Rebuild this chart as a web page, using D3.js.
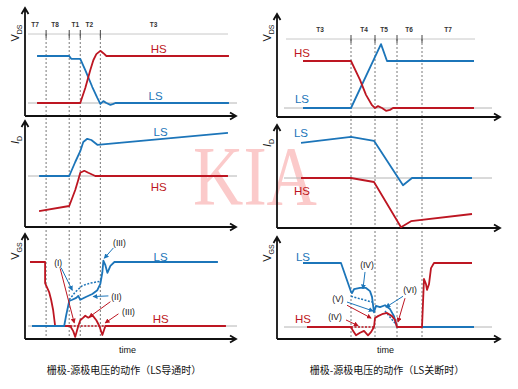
<!DOCTYPE html>
<html>
<head>
<meta charset="utf-8">
<script src="https://cdn.jsdelivr.net/npm/d3@7"></script>
<style>
  body { margin: 0; background: #fff; }
  svg { display: block; font-family: "Liberation Sans", Arial, sans-serif; }
</style>
</head>
<body>
<svg id="chart" width="518" height="389"></svg>
<script>
// ---- data: time t (arbitrary units), value v (1 = nominal level, 0 = baseline)
// left chart: LS turn-on
const phasesL = ["T7", "T8", "T1", "T2", "T3"];
const phaseTL = [10, 30, 50, 64, 128];
const boundsL = [21, 44, 55, 75];

const hsVdsL = [[12,0],[55,0],[60,0.32],[65,0.7],[68,0.91],[71,1.04],[75,1.11],[78,1.06],[81,1],[203,1]];
const lsVdsL = [[12,1],[44,1],[46,0.94],[55,0.94],[60,0.7],[67,0.34],[72,0.11],[75,-0.02],[78,0.04],[81,0],[85,-0.04],[88,-0.02],[90,0],[203,0]];
const lsIdL = [[14,0],[44,0],[50,0.35],[55,0.62],[58,0.85],[62,0.93],[66,0.9],[72,0.78],[202,1.08]];
const hsIdL = [[14,-0.88],[44,-0.75],[47,-0.55],[50,-0.35],[53,-0.1],[55,0.08],[59,0.13],[63,0.08],[70,0],[202,0]];
const hsVgsL = [[5,1],[20,1],[20,0.67],[24,0.53],[26,0.41],[28,0.25],[30,0],[45,0],[48,-0.08],[50,-0.17],[53,0],[55,0.09],[58,0.13],[60,0.16],[63,0.13],[67,0.17],[71,0.09],[74,0],[77,-0.14],[80,0],[200,0]];
const lsVgsL = [[7,0],[39,0],[41,0.17],[44,0.39],[47,0.41],[51,0.44],[53,0.47],[55,0.41],[60,0.45],[67,0.5],[72,0.56],[75,0.66],[77,0.84],[78,1.02],[80,0.95],[82,0.83],[85,0.94],[89,1],[192,1]];
const lsVgsDotL = [[44,0.41],[50,0.53],[57,0.63],[65,0.67],[72,0.69],[75,0.7]];
const hsVgsDotL = [[45,0],[80,0]];

// right chart: LS turn-off
const phasesR = ["T3", "T4", "T5", "T6", "T7"];
const phaseTR = [43, 87, 107, 132, 171];
const boundsR = [74, 98, 120, 145];

const hsVdsR = [[26,1],[74,1],[83,0.6],[89,0.28],[95,0.06],[98,0],[101,0.04],[105,0],[109,-0.06],[113,-0.04],[116,0],[197,0]];
const lsVdsR = [[26,0],[74,0],[104,1.36],[110,1],[197,1]];
const lsIdR = [[24,0.88],[74,1.03],[97,0.93],[126,-0.18],[135,0],[195,0]];
const hsIdR = [[24,0],[74,0],[97,-0.1],[124,-1.23],[134,-1.08],[195,-0.9]];
const lsVgsR = [[26,1],[64,1],[74,0.55],[75,0.53],[77,0.59],[83,0.61],[89,0.61],[93,0.56],[95,0.47],[97,0.23],[99,0.33],[103,0.31],[108,0.34],[113,0.28],[117,0.17],[120,0],[197,0]];
const hsVgsR = [[30,0],[74,0],[76,-0.06],[79,-0.13],[83,-0.09],[87,-0.06],[91,-0.13],[94,-0.08],[97,0],[98,0.14],[101,0.17],[105,0.2],[110,0.22],[115,0.17],[118,0.11],[120,0],[145,0],[147,0.75],[149,0.67],[150,0.58],[152,0.67],[154,0.92],[157,1],[195,1]];
const lsVgsDotR = [[74,0.48],[95,0.39]];
const lsVgsDot2R = [[108,0.25],[118,0.06]];
const hsVgsDotR = [[74,0],[97,0]];

// series labels [panel, text, t, v]
const seriesLabelsL = [[0,"HS",133,1.15],[0,"LS",130,0.15],[1,"LS",135,1.1],[1,"HS",133,-0.28],[2,"LS",135,1.08],[2,"HS",135,0.11]];
const seriesLabelsR = [[0,"HS",25,1.17],[0,"LS",25,0.19],[1,"LS",24,1.13],[1,"HS",25,-0.33],[2,"LS",26,1.09],[2,"HS",26,0.125]];

// annotation labels [text, t, v] and arrows [color, t0, v0, t1, v1] on the V_GS panel
const notesL = [["(I)",33,0.98],["(III)",94,1.3],["(II)",91,0.45],["(III)",103,0.22]];
const arrowsL = [["b",36,0.91,47,0.56],["r",35,0.9,49,0.05],["b",88,1.22,79,1.06],["b",83,0.47,68,0.46],["r",85,0.38,64,0.14],["r",93,0.19,80,0.05]];
const notesR = [["(IV)",90,0.97],["(V)",61,0.44],["(IV)",58,0.16],["(VI)",133,0.58]];
const arrowsR = [["b",88,0.86,86,0.6],["b",70,0.39,96,0.25],["r",70,0.34,94,0.14],["r",69,0.11,81,0.02],["b",126,0.48,109,0.31],["r",128,0.45,121,0.08]];

const yLabels = [["V","DS"],["I","D"],["V","GS"]];
const captions = ["栅极-源极电压的动作（LS导通时）", "栅极-源极电压的动作（LS关断时）"];

const RED = "#bd1622", BLUE = "#1c75b9";
const colorOf = { r: RED, b: BLUE };

const svg = d3.select("#chart");

// watermark behind everything
svg.append("text")
  .attr("x", 255).attr("y", 205)
  .attr("text-anchor", "middle")
  .attr("font-family", "Liberation Serif, serif")
  .attr("font-size", 84)
  .attr("textLength", 124).attr("lengthAdjust", "spacingAndGlyphs")
  .attr("fill", "#fbcaca")
  .text("KIA");

const defs = svg.append("defs");
Object.entries(colorOf).forEach(([k, c]) => {
  defs.append("marker").attr("id", "ah-" + k)
    .attr("viewBox", "0 0 6 6").attr("refX", 5).attr("refY", 3)
    .attr("markerWidth", 5).attr("markerHeight", 5)
    .attr("markerUnits", "userSpaceOnUse").attr("orient", "auto")
    .append("path").attr("d", "M0,0L6,3L0,6Z").attr("fill", c);
});

function drawChart(cfg) {
  const g = svg.append("g");
  const x = d3.scaleLinear().domain(cfg.tDomain).range(cfg.xRange);
  const ys = cfg.panels.map(p => d3.scaleLinear().domain([0, 1]).range([p.base, p.level]));
  const x0 = cfg.xRange[0], x1 = cfg.xRange[1];
  const bottom = cfg.panels[2].axisY;

  // phase band
  g.append("line").attr("x1", cfg.phaseX[0]).attr("x2", cfg.phaseX[1])
    .attr("y1", cfg.phaseY).attr("y2", cfg.phaseY).attr("stroke", "#c8c8c8");
  g.selectAll("text.phase").data(cfg.phases).join("text")
    .attr("x", (d, i) => x(cfg.phaseT[i])).attr("y", cfg.phaseY - 10)
    .attr("text-anchor", "middle").attr("dominant-baseline", "central")
    .attr("font-size", 6.5).attr("font-weight", "bold").attr("fill", "#333")
    .text(d => d);
  g.selectAll("line.tick").data(cfg.bounds).join("line")
    .attr("x1", d => x(d)).attr("x2", d => x(d))
    .attr("y1", cfg.phaseY - 4).attr("y2", cfg.phaseY + 4)
    .attr("stroke", "#444").attr("stroke-width", 1);
  g.selectAll("line.bound").data(cfg.bounds).join("line")
    .attr("x1", d => x(d)).attr("x2", d => x(d))
    .attr("y1", cfg.phaseY).attr("y2", bottom)
    .attr("stroke", "#555").attr("stroke-width", 0.8).attr("stroke-dasharray", "2,2");

  cfg.panels.forEach((p, i) => {
    const y = ys[i];
    // baseline
    g.append("line").attr("x1", cfg.grayX[0]).attr("x2", cfg.grayX[1])
      .attr("y1", y(0)).attr("y2", y(0)).attr("stroke", "#b4b4b4");
    // axes with open arrowheads
    g.append("path")
      .attr("d", `M${x0},${p.axisY}V${p.top}M${x0 - 3.5},${p.top + 6}L${x0},${p.top}L${x0 + 3.5},${p.top + 6}` +
                 `M${x0},${p.axisY}H${x1}M${x1 - 6},${p.axisY - 3.5}L${x1},${p.axisY}L${x1 - 6},${p.axisY + 3.5}`)
      .attr("fill", "none").attr("stroke", "#111").attr("stroke-width", 1.8);
    // y label
    const lab = g.append("text")
      .attr("transform", `translate(${p.labX},${p.labY}) rotate(-90)`)
      .attr("text-anchor", "middle").attr("font-size", 11).attr("fill", "#111");
    lab.append("tspan").attr("font-style", i === 1 ? "italic" : "normal").text(yLabels[i][0]);
    lab.append("tspan").attr("font-size", 7).attr("dy", 3).text(yLabels[i][1]);

    const line = d3.line().x(d => x(d[0])).y(d => y(d[1]));
    p.series.forEach(s => {
      g.append("path").datum(s.data).attr("d", line)
        .attr("fill", "none").attr("stroke", s.color)
        .attr("stroke-width", s.dotted ? 1.5 : 1.8)
        .attr("stroke-dasharray", s.dotted ? "2,1.5" : null)
        .attr("stroke-linejoin", "round");
    });
  });

  // series labels
  g.selectAll("text.series").data(cfg.seriesLabels).join("text")
    .attr("x", d => x(d[2])).attr("y", d => ys[d[0]](d[3]))
    .attr("text-anchor", "middle").attr("dominant-baseline", "central")
    .attr("font-size", 11.5).attr("fill", d => d[1] === "HS" ? RED : BLUE)
    .text(d => d[1]);

  // annotations on V_GS panel
  const yg = ys[2];
  g.selectAll("line.arrow").data(cfg.arrows).join("line")
    .attr("x1", d => x(d[1])).attr("y1", d => yg(d[2]))
    .attr("x2", d => x(d[3])).attr("y2", d => yg(d[4]))
    .attr("stroke", d => colorOf[d[0]]).attr("stroke-width", 1)
    .attr("marker-end", d => `url(#ah-${d[0]})`);
  g.selectAll("text.note").data(cfg.notes).join("text")
    .attr("x", d => x(d[1])).attr("y", d => yg(d[2]))
    .attr("text-anchor", "middle").attr("dominant-baseline", "central")
    .attr("font-size", 8.5).attr("fill", "#111")
    .text(d => d[0]);

  // time + caption
  const cx = (x0 + x1) / 2;
  g.append("text").attr("x", cx - 3).attr("y", 353).attr("text-anchor", "middle")
    .attr("font-size", 9).attr("fill", "#111").text("time");
  g.append("text").attr("x", cfg.captionX).attr("y", 374).attr("text-anchor", "middle")
    .attr("font-family", "Noto Sans CJK SC, sans-serif")
    .attr("font-size", 10).attr("fill", "#111").text(cfg.caption);
}

drawChart({
  tDomain: [0, 210], xRange: [25, 236],
  phases: phasesL, phaseT: phaseTL, bounds: boundsL,
  phaseY: 34, phaseX: [28, 228], grayX: [28, 237],
  seriesLabels: seriesLabelsL, notes: notesL, arrows: arrowsL,
  caption: captions[0], captionX: 124,
  panels: [
    { base: 103, level: 56, axisY: 116, top: 8, labX: 19, labY: 33,
      series: [{ data: lsVdsL, color: BLUE }, { data: hsVdsL, color: RED }] },
    { base: 176, level: 136, axisY: 227, top: 121, labX: 19, labY: 140,
      series: [{ data: lsIdL, color: BLUE }, { data: hsIdL, color: RED }] },
    { base: 326, level: 262, axisY: 339, top: 234, labX: 19, labY: 251,
      series: [{ data: hsVgsDotL, color: RED, dotted: true }, { data: lsVgsDotL, color: BLUE, dotted: true },
               { data: hsVgsL, color: RED }, { data: lsVgsL, color: BLUE }] }
  ]
});

drawChart({
  tDomain: [0, 223], xRange: [277, 500],
  phases: phasesR, phaseT: phaseTR, bounds: boundsR,
  phaseY: 39, phaseX: [286, 475], grayX: [284, 492],
  seriesLabels: seriesLabelsR, notes: notesR, arrows: arrowsR,
  caption: captions[1], captionX: 387,
  panels: [
    { base: 108, level: 61, axisY: 117, top: 14, labX: 271, labY: 33,
      series: [{ data: lsVdsR, color: BLUE }, { data: hsVdsR, color: RED }] },
    { base: 178, level: 138, axisY: 228, top: 125, labX: 271, labY: 143,
      series: [{ data: lsIdR, color: BLUE }, { data: hsIdR, color: RED }] },
    { base: 327, level: 263, axisY: 339, top: 237, labX: 271, labY: 253,
      series: [{ data: hsVgsDotR, color: RED, dotted: true }, { data: lsVgsDotR, color: BLUE, dotted: true },
               { data: lsVgsDot2R, color: BLUE, dotted: true },
               { data: lsVgsR, color: BLUE }, { data: hsVgsR, color: RED }] }
  ]
});
</script>
</body>
</html>
